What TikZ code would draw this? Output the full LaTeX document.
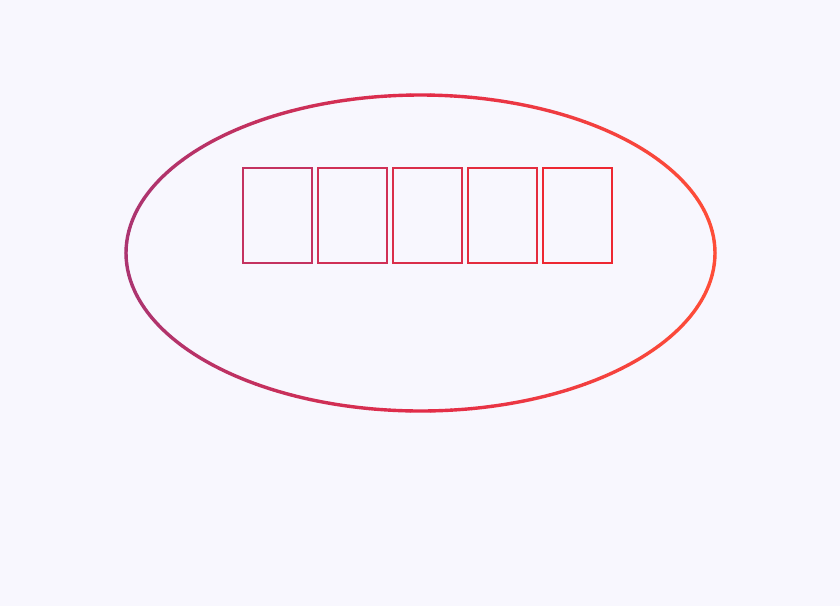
\documentclass[tikz,border=0pt]{standalone}
\usepackage{tikz}
\usetikzlibrary{positioning}
\definecolor{paper}{RGB}{248, 247, 254}
\definecolor{elleft}{RGB}{172, 52, 112}
\definecolor{elmid}{RGB}{226, 44, 72}
\definecolor{elright}{RGB}{255, 78, 56}
\definecolor{box1}{RGB}{196, 50, 96}
\definecolor{box2}{RGB}{208, 48, 86}
\definecolor{box3}{RGB}{218, 46, 74}
\definecolor{box4}{RGB}{228, 44, 62}
\definecolor{box5}{RGB}{238, 40, 50}

\begin{document}
\begin{tikzpicture}[x=1pt, y=-1pt,
    panel/.style={draw, line width=2.3pt, minimum width=69pt, minimum height=95pt, inner sep=0pt, outer sep=0pt}]
            \fill[paper] (0,0) rectangle (840,606);
            \useasboundingbox (0,0) rectangle (840,606);
            \coordinate (ring) at (420.5,253);
            % ellipse, coloured piece by piece from left to right
            \foreach \a in {0,4,...,356}{
                \pgfmathtruncatemacro\f{50+50*cos(\a+2)}
                \ifnum\f<50
                    \pgfmathtruncatemacro\p{2*\f}
                    \colorlet{ink}{elmid!\p!elleft}
                \else
                    \pgfmathtruncatemacro\p{2*\f-100}
                    \colorlet{ink}{elright!\p!elmid}
                \fi
                \draw[ink, line width=3.4pt, line cap=round, shift={(ring)}] (\a:294.5 and 158) arc[start angle=\a, end angle=\a+4, x radius=294.5, y radius=158];
            }
            \node[panel, draw=box1] (p1) at (277.5,215.5) {};
            \foreach \i [count=\j from 1] in {2,...,5}
                \node[panel, draw=box\i, right=6pt of p\j] (p\i) {};
\end{tikzpicture}
\end{document}
